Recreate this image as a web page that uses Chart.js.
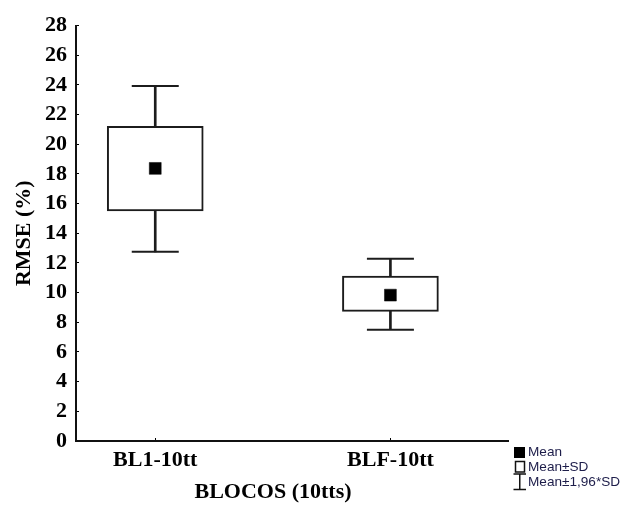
<!DOCTYPE html>
<html>
<head>
<meta charset="utf-8">
<script src="https://cdn.jsdelivr.net/npm/chart.js@4.4.0/dist/chart.umd.min.js"></script>
<style>
  html, body { margin: 0; padding: 0; background: #fff; }
  #wrap { width: 625px; height: 507px; position: relative; }
</style>
</head>
<body>
<div id="wrap"><canvas id="c" width="625" height="507"></canvas></div>
<script>
// Groups and their positions on the x axis
const categories = ['BL1-10tt', 'BLF-10tt'];
const positions = [1, 2];

// RMSE (%) summary per group
const means  = [18.37, 9.83];
const sdLow  = [15.50, 8.73];   // Mean - SD
const sdHigh = [21.20, 11.12];  // Mean + SD
const ciLow  = [12.75, 7.50];   // Mean - 1.96*SD
const ciHigh = [23.93, 12.28];  // Mean + 1.96*SD

// Axis ticks and texts
const yTicks = [0, 2, 4, 6, 8, 10, 12, 14, 16, 18, 20, 22, 24, 26, 28];
const yTitle = 'RMSE (%)';
const xTitle = 'BLOCOS (10tts)';
const legendLabels = ['Mean', 'Mean±SD', 'Mean±1,96*SD'];

const ink = '#1c1c1c';
const serifBold = { family: "'Liberation Serif', 'Times New Roman', serif", size: 22, weight: 'bold' };

// Key in the lower right corner: filled square, open box, whisker
const keyPlugin = {
  id: 'statKey',
  afterDraw(chart) {
    const ctx = chart.ctx;
    const x0 = chart.chartArea.right + 6;
    const rows = [452.5, 467, 482];
    ctx.save();
    // Mean
    ctx.fillStyle = '#000';
    ctx.fillRect(x0, 447, 11, 11);
    // Mean±SD
    ctx.strokeStyle = '#111';
    ctx.lineWidth = 1.5;
    ctx.strokeRect(x0 + 1.5, 461.5, 9, 10.5);
    // Mean±1,96*SD
    ctx.lineWidth = 1.5;
    ctx.beginPath();
    ctx.moveTo(x0 - 0.5, 474); ctx.lineTo(x0 + 12, 474);
    ctx.moveTo(x0 + 5.75, 474); ctx.lineTo(x0 + 5.75, 489.5);
    ctx.moveTo(x0 - 0.5, 489.5); ctx.lineTo(x0 + 12, 489.5);
    ctx.stroke();
    ctx.fillStyle = '#1d1d4a';
    ctx.font = "13.6px 'Liberation Sans', Arial, sans-serif";
    ctx.textBaseline = 'middle';
    ctx.textAlign = 'left';
    legendLabels.forEach((t, i) => ctx.fillText(t, x0 + 14, rows[i]));
    ctx.restore();
  }
};

new Chart(document.getElementById('c'), {
  type: 'bar',
  data: {
    datasets: [
      {
        label: legendLabels[2],
        type: 'bar',
        data: positions.map((x, i) => ({ x, y: [ciLow[i], ciHigh[i]] })),
        backgroundColor: ink,
        borderWidth: 0,
        barThickness: 2,
        grouped: false,
        order: 4
      },
      {
        label: legendLabels[1],
        type: 'bar',
        data: positions.map((x, i) => ({ x, y: [sdLow[i], sdHigh[i]] })),
        backgroundColor: '#ffffff',
        borderColor: ink,
        borderWidth: 2,
        borderSkipped: false,
        barThickness: 96,
        grouped: false,
        order: 3
      },
      {
        label: 'caps',
        type: 'scatter',
        data: positions.flatMap((x, i) => [{ x, y: ciLow[i] }, { x, y: ciHigh[i] }]),
        pointStyle: 'line',
        pointRadius: 23.5,
        borderColor: ink,
        borderWidth: 2,
        order: 2
      },
      {
        label: legendLabels[0],
        type: 'scatter',
        data: positions.map((x, i) => ({ x, y: means[i] })),
        pointStyle: 'rect',
        pointRadius: 8.4,
        backgroundColor: '#000',
        borderColor: '#000',
        borderWidth: 0.5,
        order: 1
      }
    ]
  },
  options: {
    responsive: false,
    devicePixelRatio: 1,
    animation: false,
    events: [],
    layout: { padding: { top: 23, left: 38, right: 117, bottom: 0 } },
    plugins: {
      legend: { display: false },
      tooltip: { enabled: false },
      title: {
        display: true,
        text: xTitle,
        position: 'bottom',
        color: '#000',
        font: serifBold,
        padding: { top: 5, bottom: 1.3 }
      }
    },
    scales: {
      x: {
        type: 'linear',
        offset: false,
        min: 0.663,
        max: 2.5,
        afterBuildTicks: (s) => { s.ticks = positions.map(v => ({ value: v })); },
        afterFit: (s) => { s.height = 33.3; },
        ticks: {
          autoSkip: false,
          maxRotation: 0,
          padding: 9,
          color: '#000',
          font: serifBold,
          callback: (v, i) => categories[i]
        },
        grid: { offset: false, drawOnChartArea: false, tickLength: -3, color: '#000', tickWidth: 1 },
        border: { color: '#111', width: 2 }
      },
      y: {
        type: 'linear',
        min: 0,
        max: 28,
        afterBuildTicks: (s) => { s.ticks = yTicks.map(v => ({ value: v })); },
        afterFit: (s) => { s.width = 38; },
        ticks: {
          autoSkip: false,
          padding: 12,
          color: '#000',
          font: serifBold
        },
        grid: { drawOnChartArea: false, tickLength: -3, color: '#000', tickWidth: 1 },
        border: { color: '#111', width: 2 },
        title: {
          display: true,
          text: yTitle,
          color: '#000',
          font: serifBold,
          padding: { top: -26.5, bottom: 0 }
        }
      }
    }
  },
  plugins: [keyPlugin]
});
</script>
</body>
</html>
